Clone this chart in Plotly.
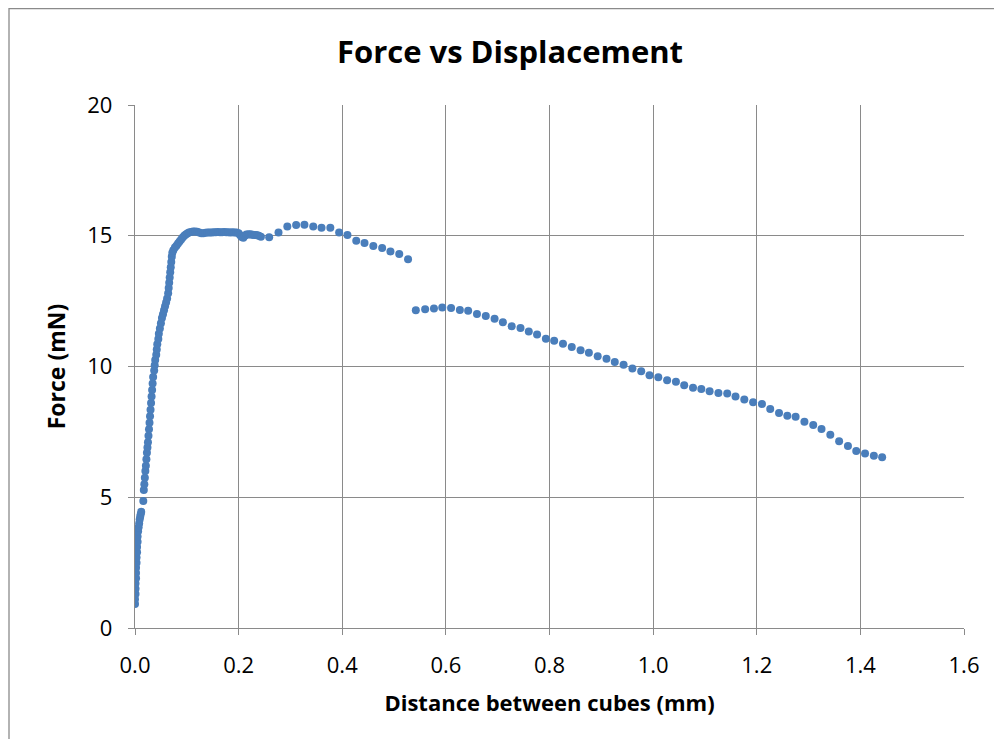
import plotly.graph_objects as go

# Distance between cubes (mm)
distance = [
    0.000, 0.000, 0.001, 0.001, 0.001, 0.002, 0.002, 0.002, 0.003, 0.003,
    0.004, 0.004, 0.005, 0.005, 0.006, 0.007, 0.008, 0.009, 0.010, 0.011,
    0.012, 0.016,
    0.017, 0.018, 0.019, 0.020, 0.021, 0.022, 0.023, 0.024, 0.025, 0.026,
    0.027, 0.028, 0.029, 0.030, 0.031, 0.032, 0.033, 0.034, 0.035, 0.037,
    0.038, 0.039, 0.041, 0.042, 0.043, 0.045, 0.046, 0.048, 0.050, 0.052,
    0.054, 0.056, 0.058, 0.060, 0.062, 0.064, 0.065, 0.066, 0.067, 0.068,
    0.069, 0.070, 0.071, 0.072, 0.074, 0.077, 0.080, 0.083, 0.086, 0.089,
    0.092, 0.095, 0.098, 0.101, 0.104, 0.108, 0.112, 0.116, 0.120, 0.124,
    0.128, 0.132, 0.136, 0.140, 0.144, 0.148, 0.152, 0.156, 0.160, 0.164,
    0.168, 0.172, 0.176, 0.180, 0.184, 0.188, 0.192, 0.196, 0.200, 0.203,
    0.206, 0.209, 0.212, 0.215, 0.218, 0.221, 0.224, 0.227, 0.230, 0.233,
    0.236, 0.239, 0.243,
    0.259, 0.277, 0.294, 0.311, 0.327, 0.344, 0.360, 0.377, 0.394, 0.410,
    0.427, 0.443, 0.460, 0.477, 0.493, 0.510, 0.527,
    0.542, 0.560, 0.577, 0.593, 0.610, 0.627, 0.643, 0.660, 0.677, 0.694,
    0.710, 0.727, 0.744, 0.760, 0.776, 0.793, 0.809, 0.826, 0.843, 0.860,
    0.876, 0.893, 0.910, 0.926, 0.943, 0.960, 0.977, 0.993, 1.010, 1.027,
    1.044, 1.060, 1.077, 1.093, 1.109, 1.126, 1.143, 1.159, 1.176, 1.193,
    1.210, 1.226, 1.243, 1.259, 1.275, 1.292, 1.309, 1.325, 1.342, 1.359,
    1.376, 1.392, 1.409, 1.426, 1.442,
]

# Force (mN)
force = [
    0.92, 1.10, 1.30, 1.50, 1.70, 1.90, 2.10, 2.30, 2.50, 2.70,
    2.90, 3.10, 3.30, 3.50, 3.70, 3.85, 4.00, 4.15, 4.25, 4.35,
    4.45, 4.86,
    5.28, 5.50, 5.75, 6.00, 6.20, 6.45, 6.70, 6.90, 7.10, 7.35,
    7.60, 7.85, 8.10, 8.35, 8.60, 8.85, 9.10, 9.35, 9.60, 9.85,
    10.05, 10.25, 10.45, 10.65, 10.85, 11.05, 11.25, 11.45, 11.65, 11.85,
    12.00, 12.15, 12.30, 12.45, 12.60, 12.80, 13.00, 13.20, 13.40, 13.60,
    13.80, 14.00, 14.20, 14.35, 14.45, 14.55, 14.62, 14.70, 14.78, 14.86,
    14.93, 15.00, 15.05, 15.09, 15.12, 15.14, 15.16, 15.16, 15.15, 15.12,
    15.10, 15.10, 15.11, 15.12, 15.12, 15.12, 15.13, 15.13, 15.14, 15.13,
    15.13, 15.14, 15.13, 15.13, 15.12, 15.13, 15.12, 15.12, 15.10, 15.02,
    14.95, 14.92, 15.00, 15.05, 15.05, 15.06, 15.05, 15.04, 15.03, 15.03,
    15.02, 15.00, 14.96,
    14.94, 15.12, 15.35, 15.41, 15.42, 15.35, 15.31, 15.31, 15.12, 15.03,
    14.81, 14.72, 14.61, 14.53, 14.40, 14.30, 14.10,
    12.15, 12.19, 12.22, 12.26, 12.24, 12.16, 12.13, 12.01, 11.93, 11.83,
    11.69, 11.54, 11.47, 11.34, 11.22, 11.06, 10.98, 10.87, 10.75, 10.62,
    10.53, 10.39, 10.30, 10.17, 10.07, 9.92, 9.82, 9.67, 9.59, 9.47,
    9.42, 9.28, 9.19, 9.14, 9.05, 8.99, 8.97, 8.85, 8.74, 8.63,
    8.57, 8.37, 8.22, 8.12, 8.08, 7.89, 7.76, 7.61, 7.39, 7.14,
    6.96, 6.77, 6.67, 6.59, 6.53,
]

x_ticks = [0.0, 0.2, 0.4, 0.6, 0.8, 1.0, 1.2, 1.4, 1.6]
y_ticks = [0, 5, 10, 15, 20]

FONT = "Open Sans"
GRID = "#8a8a8a"

# page body has an 8px margin
W, H = 986, 731
L, T = 127, 97
PW, PH = 829, 523

fig = go.Figure()
fig.add_trace(go.Scatter(
    x=distance, y=force, mode="markers",
    marker=dict(color="#4a7ebb", size=8, line=dict(width=0)),
    showlegend=False,
))

fig.update_layout(
    width=W, height=H,
    margin=dict(l=L, r=W - L - PW, t=T, b=H - T - PH),
    paper_bgcolor="white", plot_bgcolor="white",
    font=dict(family=FONT, color="black"),
    title=dict(text="<b>Force vs Displacement</b>",
               xref="paper", x=(510 - 8 - L) / PW, xanchor="center",
               y=1 - 44 / H, yanchor="middle",
               font=dict(family=FONT, size=31, color="black")),
    xaxis=dict(
        range=[0, 1.6], tickvals=x_ticks, ticktext=[f"{v:.1f}" for v in x_ticks],
        showgrid=True, gridcolor=GRID, gridwidth=1.3,
        showline=True, linecolor=GRID, linewidth=1.3,
        ticks="outside", ticklen=6, tickcolor=GRID, tickwidth=1.3,
        ticklabelstandoff=11,
        tickfont=dict(family=FONT, size=22), zeroline=False,
        title=dict(text="<b>Distance between cubes (mm)</b>",
                   font=dict(family=FONT, size=22), standoff=18),
    ),
    yaxis=dict(
        range=[0, 20], tickvals=y_ticks,
        showgrid=True, gridcolor=GRID, gridwidth=1.3,
        showline=True, linecolor=GRID, linewidth=1.3,
        ticks="outside", ticklen=6, tickcolor=GRID, tickwidth=1.3,
        ticklabelstandoff=11,
        tickfont=dict(family=FONT, size=22), zeroline=False,
        title=dict(text="<b>Force (mN)</b>",
                   font=dict(family=FONT, size=23), standoff=15),
    ),
)

# outer chart border (left and top edges)
fig.add_shape(type="line", xref="paper", yref="paper",
              x0=(1 - L) / PW, x1=(1 - L) / PW,
              y0=-(H - T - PH) / PH, y1=(T + 1) / PH + 1,
              line=dict(color="#8a8a8a", width=1.3), layer="below")
fig.add_shape(type="line", xref="paper", yref="paper",
              x0=(1 - L) / PW, x1=(W - L) / PW,
              y0=(T - 0.5) / PH + 1, y1=(T - 0.5) / PH + 1,
              line=dict(color="#8a8a8a", width=1.3), layer="below")

fig.write_html("out.html")
